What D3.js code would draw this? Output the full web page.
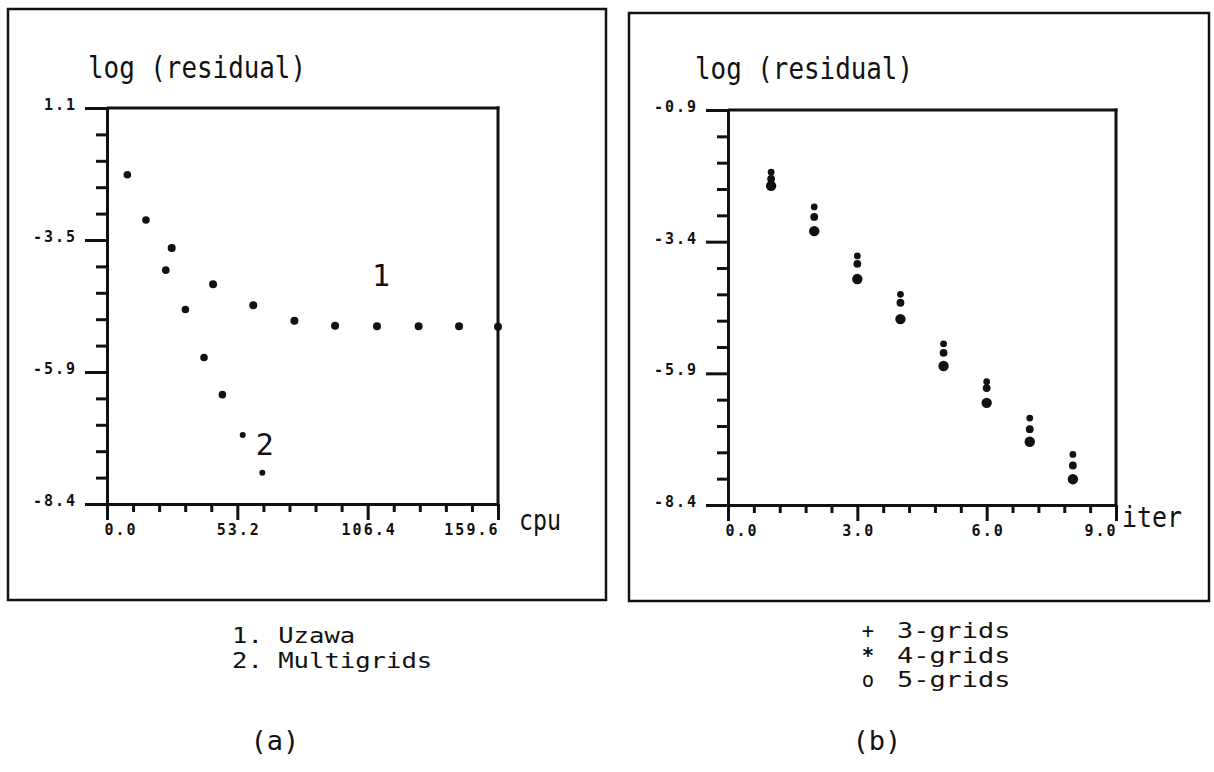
<!DOCTYPE html>
<html><head><meta charset="utf-8">
<script src="https://cdn.jsdelivr.net/npm/d3@7"></script>
<style>
body{margin:0;background:#fff}
svg text{font-family:"DejaVu Sans Mono",monospace;fill:#111}
</style></head><body>
<svg id="c" width="1214" height="772"></svg>
<script>
// ---------- Panel (a): residual vs cpu ----------
const cpuTicks = [0.0, 53.2, 106.4, 159.6];
const cpuTickLabels = ["0.0", "53.2", "106.4", "159.6"];
const resATicks = [-1.05, -3.5, -5.95, -8.4];
const resATickLabels = ["1.1", "-3.5", "-5.9", "-8.4"];
const uzawaCpu = [26.4, 43.3, 59.7, 76.5, 93.1, 110.2, 127.2, 143.7, 159.6];
const uzawaRes = [-3.65, -4.32, -4.71, -5.00, -5.09, -5.10, -5.10, -5.10, -5.11];
const multiCpu = [8.3, 15.9, 24.0, 32.0, 39.6, 47.1, 55.4, 63.4];
const multiRes = [-2.29, -3.13, -4.06, -4.79, -5.68, -6.37, -7.12, -7.82];
const curveLabels = ["1", "2"];
const legendA = ["1. Uzawa", "2. Multigrids"];

// ---------- Panel (b): residual vs iter ----------
const iterTicks = [0, 3, 6, 9];
const iterTickLabels = ["0.0", "3.0", "6.0", "9.0"];
const resBTicks = [-0.9, -3.4, -5.9, -8.4];
const resBTickLabels = ["-0.9", "-3.4", "-5.9", "-8.4"];
const iters = [1, 2, 3, 4, 5, 6, 7, 8];
const grid3 = [-2.08, -2.74, -3.67, -4.40, -5.34, -6.06, -6.75, -7.44];
const grid4 = [-2.21, -2.93, -3.82, -4.56, -5.51, -6.18, -6.96, -7.65];
const grid5 = [-2.34, -3.20, -4.11, -4.87, -5.76, -6.46, -7.20, -7.91];
const legendBSymbols = ["+", "*", "o"];
const legendB = ["3-grids", "4-grids", "5-grids"];

const svg = d3.select("#c");
const INK = "#111";

function minorOf(majors) {
  const out = [];
  for (let i = 0; i < majors.length - 1; i++) {
    const a = majors[i], b = majors[i + 1];
    d3.range(1, 5).forEach(k => out.push(a + (b - a) * k / 5));
  }
  return out;
}

function panel(o) {
  const g = svg.append("g");
  g.append("rect").attr("x", o.frame[0]).attr("y", o.frame[1])
    .attr("width", o.frame[2]).attr("height", o.frame[3])
    .attr("fill", "none").attr("stroke", INK).attr("stroke-width", 2.5);

  const x = d3.scaleLinear().domain(o.xDomain).range(o.xRange);
  const y = d3.scaleLinear().domain(o.yDomain).range(o.yRange);

  g.append("g").attr("transform", `translate(0,${o.yRange[0]})`)
    .call(d3.axisBottom(x).tickValues(minorOf(o.xTicks)).tickFormat("").tickSize(8).tickSizeOuter(0))
    .call(s => s.select(".domain").remove())
    .call(s => s.selectAll("line").attr("stroke", INK).attr("stroke-width", 3));
  g.append("g").attr("transform", `translate(${o.xRange[0]},0)`)
    .call(d3.axisLeft(y).tickValues(minorOf(o.yTicks)).tickFormat("").tickSize(11).tickSizeOuter(0))
    .call(s => s.select(".domain").remove())
    .call(s => s.selectAll("line").attr("stroke", INK).attr("stroke-width", 3));

  const n = o.xTicks.length;
  g.append("g").attr("transform", `translate(0,${o.yRange[0]})`)
    .call(d3.axisBottom(x).tickValues(o.xTicks).tickFormat((d, i) => o.xLabels[i])
      .tickSize(16).tickSizeOuter(0).tickPadding(4))
    .call(s => s.select(".domain").attr("stroke", INK).attr("stroke-width", 3))
    .call(s => s.selectAll("line").attr("stroke", INK).attr("stroke-width", 3))
    .call(s => s.selectAll("text")
      .attr("text-anchor", (d, i) => i === 0 ? "start" : (i === n - 1 ? "end" : "middle"))
      .attr("dx", (d, i) => i === 0 ? -3 : 1)
      .style("font-size", "15px").style("font-weight", "bold").style("letter-spacing", "2px")
      .style("font-family", "'DejaVu Sans Mono',monospace").attr("fill", INK));

  g.append("g").attr("transform", `translate(${o.xRange[0]},0)`)
    .call(d3.axisLeft(y).tickValues(o.yTicks).tickFormat((d, i) => o.yLabels[i])
      .tickSize(22).tickSizeOuter(0).tickPadding(8))
    .call(s => s.select(".domain").attr("stroke", INK).attr("stroke-width", 3))
    .call(s => s.selectAll("line").attr("stroke", INK).attr("stroke-width", 3))
    .call(s => s.selectAll("text").attr("dy", "0.1em")
      .style("font-size", "15px").style("font-weight", "bold").style("letter-spacing", "2px")
      .style("font-family", "'DejaVu Sans Mono',monospace").attr("fill", INK));

  g.append("line").attr("x1", x(o.xDomain[0])).attr("x2", x(o.xDomain[1]) + 1.5)
    .attr("y1", y(o.yDomain[1])).attr("y2", y(o.yDomain[1]))
    .attr("stroke", INK).attr("stroke-width", 3);
  g.append("line").attr("x1", x(o.xDomain[1])).attr("x2", x(o.xDomain[1]))
    .attr("y1", y(o.yDomain[1]) - 1.5).attr("y2", y(o.yDomain[0]))
    .attr("stroke", INK).attr("stroke-width", 3);

  g.append("text").attr("x", o.title[0]).attr("y", o.title[1])
    .attr("textLength", 218).attr("lengthAdjust", "spacingAndGlyphs")
    .style("font-size", "30px").text("log (residual)");
  g.append("text").attr("x", o.xTitle[0]).attr("y", o.xTitle[1])
    .attr("textLength", o.xTitle[3]).attr("lengthAdjust", "spacingAndGlyphs")
    .style("font-size", "28px").text(o.xTitle[2]);

  return { g, x, y };
}

// ----- panel (a)
const A = panel({
  frame: [8, 9, 598, 591],
  xDomain: [cpuTicks[0], cpuTicks[3]], xRange: [107, 498],
  yDomain: [resATicks[3], resATicks[0]], yRange: [504, 108],
  xTicks: cpuTicks, xLabels: cpuTickLabels,
  yTicks: resATicks, yLabels: resATickLabels,
  title: [88, 78], xTitle: [519, 530, "cpu", 42]
});
A.g.append("g").selectAll("circle").data(uzawaCpu).join("circle")
  .attr("cx", d => A.x(d)).attr("cy", (d, i) => A.y(uzawaRes[i])).attr("r", 4).attr("fill", INK);
A.g.append("g").selectAll("circle").data(multiCpu).join("circle")
  .attr("cx", d => A.x(d)).attr("cy", (d, i) => A.y(multiRes[i]))
  .attr("r", (d, i) => i >= 6 ? 3 : 3.8).attr("fill", INK);
A.g.append("text").attr("x", A.x(uzawaCpu[5]) + 4).attr("y", A.y(uzawaRes[5]) - 40)
  .attr("text-anchor", "middle").style("font-size", "30px").text(curveLabels[0]);
A.g.append("text").attr("x", A.x(multiCpu[6]) + 22).attr("y", A.y(multiRes[6]) + 20)
  .attr("text-anchor", "middle").style("font-size", "30px").text(curveLabels[1]);
// legend (a)
A.g.append("g").selectAll("text").data(legendA).join("text")
  .attr("x", 232).attr("y", (d, i) => 643 + i * 24.5)
  .attr("textLength", d => d.length * 15.4).attr("lengthAdjust", "spacingAndGlyphs")
  .style("font-size", "20.5px").text(d => d);
A.g.append("text").attr("x", 275).attr("y", 750).attr("text-anchor", "middle")
  .style("font-size", "27px").text("(a)");

// ----- panel (b)
const B = panel({
  frame: [629, 13, 580, 588],
  xDomain: [iterTicks[0], iterTicks[3]], xRange: [728, 1116],
  yDomain: [resBTicks[3], resBTicks[0]], yRange: [505, 110],
  xTicks: iterTicks, xLabels: iterTickLabels,
  yTicks: resBTicks, yLabels: resBTickLabels,
  title: [695, 79], xTitle: [1122, 527, "iter", 60]
});
[[grid3, 3.4], [grid4, 3.9], [grid5, 5.2]].forEach(([vals, r]) => {
  B.g.append("g").selectAll("circle").data(iters).join("circle")
    .attr("cx", d => B.x(d)).attr("cy", (d, i) => B.y(vals[i])).attr("r", r).attr("fill", INK);
});
// legend (b)
B.g.append("g").selectAll("text").data(legendBSymbols).join("text")
  .attr("x", 868).attr("y", (d, i) => 638 + i * 24.5).attr("text-anchor", "middle")
  .style("font-size", "20.5px").style("font-weight", (d, i) => i === 1 ? "bold" : "normal").text(d => d);
B.g.append("g").selectAll("text").data(legendB).join("text")
  .attr("x", 897).attr("y", (d, i) => 638 + i * 24.5)
  .attr("textLength", d => d.length * 16.2).attr("lengthAdjust", "spacingAndGlyphs")
  .style("font-size", "20.5px").text(d => d);
B.g.append("text").attr("x", 877).attr("y", 750).attr("text-anchor", "middle")
  .style("font-size", "27px").text("(b)");
</script>
</body></html>
